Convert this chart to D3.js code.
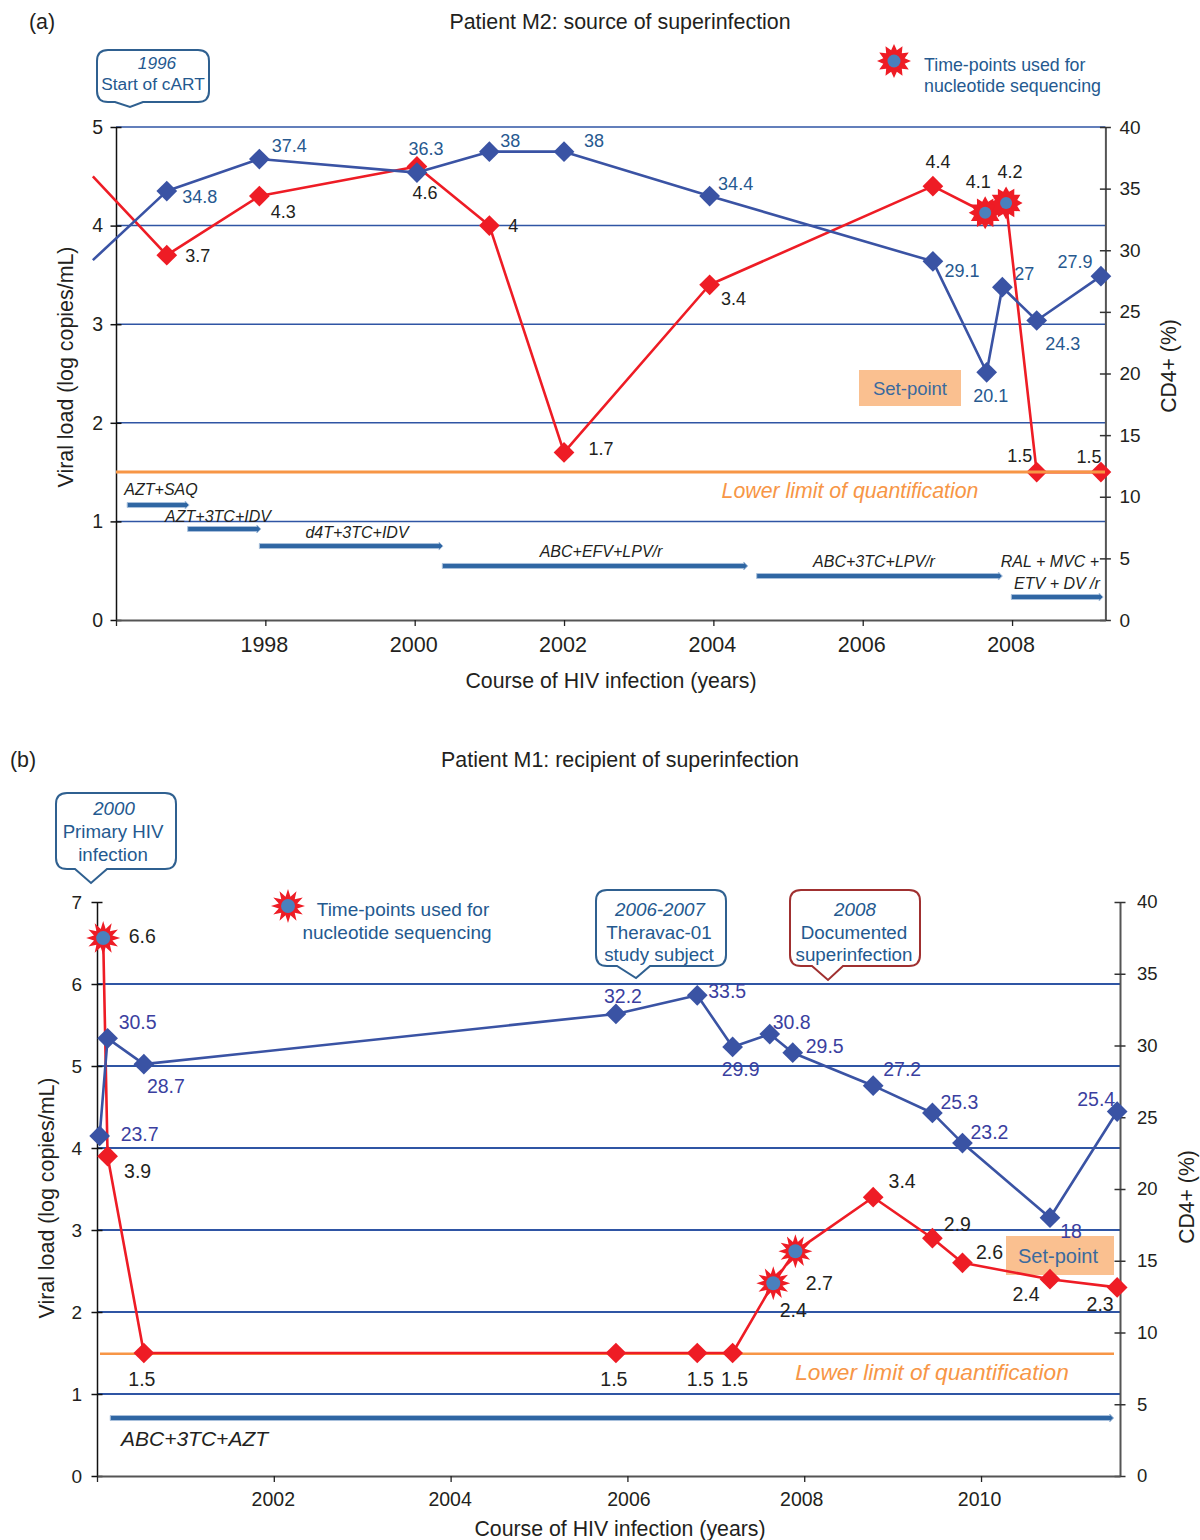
<!DOCTYPE html>
<html>
<head>
<meta charset="utf-8">
<script src="https://cdn.jsdelivr.net/npm/d3@7"></script>
<style>
html, body { margin: 0; padding: 0; background: #fff; }
text { font-family: "Liberation Sans", Arial, sans-serif; }
</style>
</head>
<body>
<div id="chart"></div>
<script>
// Panel (a): patient M2
var blueYearsA = [1995.69, 1996.68, 1997.92, 2000.03, 2001.0, 2002.0, 2003.95, 2006.94, 2007.66, 2007.87, 2008.33, 2009.19];
var blueValuesA = [29.2, 34.8, 37.4, 36.3, 38, 38, 34.4, 29.1, 20.1, 27, 24.3, 27.9];
var blueLabelsA = ["", "34.8", "37.4", "36.3", "38", "38", "34.4", "29.1", "20.1", "27", "24.3", "27.9"];
var redYearsA = [1995.69, 1996.68, 1997.92, 2000.03, 2001.0, 2002.0, 2003.95, 2006.94, 2007.64, 2007.92, 2008.33, 2009.19];
var redValuesA = [4.5, 3.7, 4.3, 4.6, 4, 1.7, 3.4, 4.4, 4.13, 4.23, 1.5, 1.5];
var redLabelsA = ["", "3.7", "4.3", "4.6", "4", "1.7", "3.4", "4.4", "4.1", "4.2", "1.5", "1.5"];
var seqYearsA = [2007.64, 2007.92];
var seqValuesA = [4.13, 4.23];
var drugNamesA = ["AZT+SAQ", "AZT+3TC+IDV", "d4T+3TC+IDV", "ABC+EFV+LPV/r", "ABC+3TC+LPV/r", "RAL + MVC +", "ETV + DV /r"];
var drugStartA = [1996.15, 1996.96, 1997.92, 2000.37, 2004.58, 2007.99];
var drugEndA = [1996.98, 1997.94, 2000.38, 2004.46, 2007.87, 2009.22];
var drugLevelA = [1.166, 0.923, 0.75, 0.548, 0.446, 0.233];
var yearTicksA = [1996, 1998, 2000, 2002, 2004, 2006, 2008];
var vlTicksA = [0, 1, 2, 3, 4, 5];
var cd4TicksA = [0, 5, 10, 15, 20, 25, 30, 35, 40];

// Panel (b): patient M1
var blueYearsB = [2000.03, 2000.12, 2000.53, 2005.87, 2006.79, 2007.19, 2007.61, 2007.87, 2008.78, 2009.45, 2009.79, 2010.78, 2011.54];
var blueValuesB = [23.7, 30.5, 28.7, 32.2, 33.5, 29.9, 30.8, 29.5, 27.2, 25.3, 23.2, 18, 25.4];
var blueLabelsB = ["23.7", "30.5", "28.7", "32.2", "33.5", "29.9", "30.8", "29.5", "27.2", "25.3", "23.2", "18", "25.4"];
var redYearsB = [2000.07, 2000.12, 2000.53, 2005.87, 2006.79, 2007.19, 2007.65, 2007.90, 2008.78, 2009.45, 2009.79, 2010.78, 2011.54];
var redValuesB = [6.56, 3.9, 1.5, 1.5, 1.5, 1.5, 2.35, 2.74, 3.4, 2.9, 2.6, 2.4, 2.3];
var redLabelsB = ["6.6", "3.9", "1.5", "1.5", "1.5", "1.5", "2.4", "2.7", "3.4", "2.9", "2.6", "2.4", "2.3"];
var seqYearsB = [2000.07, 2007.65, 2007.90];
var seqValuesB = [6.56, 2.35, 2.74];
var drugNamesB = ["ABC+3TC+AZT"];
var drugStartB = [2000.15];
var drugEndB = [2011.50];
var drugLevelB = [0.707];
var yearTicksB = [2000, 2002, 2004, 2006, 2008, 2010];
var vlTicksB = [0, 1, 2, 3, 4, 5, 6, 7];
var cd4TicksB = [0, 5, 10, 15, 20, 25, 30, 35, 40];

var BLUE = "#3a53a4", RED = "#ee1c25", GRID = "#2f55a4", ORANGE = "#f79646",
    NOTE = "#24598f", INK = "#231f20", BOX = "#fac090";

var svg = d3.select("#chart").append("svg")
    .attr("width", 1200).attr("height", 1540)
    .style("display", "block");

function txt(x, y, s, size, color, anchor, italic) {
    return svg.append("text")
        .attr("x", x).attr("y", y)
        .attr("font-size", size)
        .attr("fill", color || INK)
        .attr("text-anchor", anchor || "middle")
        .attr("dominant-baseline", "central")
        .attr("font-style", italic ? "italic" : "normal")
        .text(s);
}

function star(x, y, r, c, inner) {
    var pts = d3.range(24).map(function(i) {
        return [i * Math.PI / 12, i % 2 ? r * inner : r];
    });
    svg.append("path")
        .attr("transform", "translate(" + x + "," + y + ")")
        .attr("d", d3.lineRadial().curve(d3.curveLinearClosed)(pts))
        .attr("fill", RED);
    svg.append("circle").attr("cx", x).attr("cy", y).attr("r", c).attr("fill", "#4a80bd");
}

function callout(b, color, lines, size) {
    var r = 11, p = "M" + (b.x0 + r) + "," + b.y0 +
        "H" + (b.x1 - r) + "Q" + b.x1 + "," + b.y0 + " " + b.x1 + "," + (b.y0 + r) +
        "V" + (b.y1 - r) + "Q" + b.x1 + "," + b.y1 + " " + (b.x1 - r) + "," + b.y1 +
        "H" + b.p1 + "L" + b.tx + "," + b.ty + "L" + b.p0 + "," + b.y1 +
        "H" + (b.x0 + r) + "Q" + b.x0 + "," + b.y1 + " " + b.x0 + "," + (b.y1 - r) +
        "V" + (b.y0 + r) + "Q" + b.x0 + "," + b.y0 + " " + (b.x0 + r) + "," + b.y0 + "Z";
    svg.append("path").attr("d", p).attr("fill", "#fff").attr("stroke", color).attr("stroke-width", 2);
    lines.forEach(function(l, i) {
        txt(l[0], l[1], l[2], size, NOTE, "middle", i === 0);
    });
}

function panel(c) {
    var x = d3.scaleLinear().domain(c.yearDomain).range(c.xRange);
    var yL = d3.scaleLinear().domain(c.vlDomain).range(c.yRange);
    var yR = d3.scaleLinear().domain([0, 40]).range(c.yRange);

    // gridlines
    svg.append("g").selectAll("line").data(c.vlTicks.filter(function(d) { return d > 0 && d < c.gridMax + 0.5; }))
        .enter().append("line")
        .attr("x1", c.xRange[0]).attr("x2", c.xRange[1])
        .attr("y1", function(d) { return yL(d); }).attr("y2", function(d) { return yL(d); })
        .attr("stroke", GRID).attr("stroke-width", c.gridWidth);

    // set-point box sits under the series lines
    svg.append("rect").attr("x", c.box[0]).attr("y", c.box[1])
        .attr("width", c.box[2] - c.box[0]).attr("height", c.box[3] - c.box[1]).attr("fill", BOX);
    txt((c.box[0] + c.box[2]) / 2 + c.boxShift, (c.box[1] + c.box[3]) / 2, "Set-point", c.boxSize, "#3a6a9e");

    // lower limit of quantification
    function limitLine() {
        svg.append("line")
            .attr("x1", c.limitX[0]).attr("x2", c.limitX[1])
            .attr("y1", yL(1.5) + c.limitShift).attr("y2", yL(1.5) + c.limitShift)
            .attr("stroke", ORANGE).attr("stroke-width", c.limitWidth);
    }
    if (!c.limitOnTop) limitLine();
    txt(c.limitText[0], c.limitText[1], "Lower limit of quantification", c.limitText[2], ORANGE, "middle", true);

    // axes
    var gl = svg.append("g").attr("transform", "translate(" + c.xRange[0] + ",0)")
        .call(d3.axisLeft(yL).tickValues(c.vlTicks).tickSize(0).tickPadding(c.padL).tickFormat(d3.format("d")));
    var gr = svg.append("g").attr("transform", "translate(" + c.xRange[1] + ",0)")
        .call(d3.axisRight(yR).tickValues(c.cd4Ticks).tickSize(0).tickPadding(c.padR));
    var gb = svg.append("g").attr("transform", "translate(0," + c.yRange[0] + ")")
        .call(d3.axisBottom(x).tickValues(c.yearTicks).tickSizeInner(6).tickSizeOuter(0).tickPadding(c.padB)
            .tickFormat(function(d, i) { return i === 0 ? "" : String(d); }));
    [gl, gr].forEach(function(g) {
        g.selectAll(".tick line").attr("x1", -5.5).attr("x2", 5.5).attr("y1", 0).attr("y2", 0)
            .attr("stroke-width", 1.5);
    });
    gl.select(".domain").attr("stroke", "#111").attr("stroke-width", 1.5);
    gl.selectAll(".tick line").attr("stroke", "#111");
    gr.select(".domain").attr("stroke", "#555").attr("stroke-width", 2);
    gr.selectAll(".tick line").attr("stroke", "#333");
    gb.select(".domain").attr("stroke", "#555").attr("stroke-width", 2);
    gb.selectAll(".tick line").attr("stroke", "#222").attr("stroke-width", 1.3);
    gl.selectAll("text").attr("font-size", c.tickL).attr("fill", INK).style("font-family", '"Liberation Sans"');
    gr.selectAll("text").attr("font-size", c.tickR).attr("fill", INK).style("font-family", '"Liberation Sans"');
    gb.selectAll("text").attr("font-size", c.tickB).attr("fill", INK)
        .attr("dx", function(d, i) { return c.tickNudge[i]; }).style("font-family", '"Liberation Sans"');

    // regimen arrows
    c.drugStart.forEach(function(s, i) {
        var x0 = x(s), x1 = x(c.drugEnd[i]), ym = yL(c.drugLevel[i]);
        svg.append("path")
            .attr("d", d3.line()([[x0, ym - c.arrowH], [x1 - 4, ym - c.arrowH], [x1 - 4, ym - c.arrowH - 1.5], [x1, ym],
                [x1 - 4, ym + c.arrowH + 1.5], [x1 - 4, ym + c.arrowH], [x0, ym + c.arrowH]]) + "Z")
            .attr("fill", "#2f66a3").attr("stroke", "#a9c0dc").attr("stroke-width", 1);
    });

    var line = d3.line().x(function(d) { return x(d[0]); }).y(function(d) { return d[1]; });
    var diamond = d3.symbol().type(d3.symbolSquare).size(c.markerArea);

    function series(years, vals, scale, color, labels, offs, labelColor, skip) {
        var pts = years.map(function(t, i) { return [t, scale(vals[i])]; });
        svg.append("path").attr("d", line(pts)).attr("fill", "none")
            .attr("stroke", color).attr("stroke-width", 2.6).attr("stroke-linejoin", "round");
        svg.append("g").selectAll("path").data(pts.slice(skip)).enter().append("path")
            .attr("d", diamond).attr("fill", color)
            .attr("transform", function(d) { return "translate(" + x(d[0]) + "," + d[1] + ") rotate(45)"; });
        labels.forEach(function(l, i) {
            if (!l) return;
            txt(x(years[i]) + offs[i][0], scale(vals[i]) + offs[i][1], l, c.labelSize, labelColor);
        });
    }
    series(c.redYears, c.redValues, yL, RED, c.redLabels, c.redOff, INK, c.skip);
    c.seqYears.forEach(function(t, i) { star(x(t), yL(c.seqValues[i]), c.starR, c.starC, c.starInner); });
    series(c.blueYears, c.blueValues, yR, BLUE, c.blueLabels, c.blueOff, c.blueText, c.skip);
    if (c.limitOnTop) limitLine();

    // titles
    txt(c.yearTitle[0], c.yearTitle[1], "Course of HIV infection (years)", 21.3);
    txt(0, 0, "Viral load (log copies/mL)", 21.4)
        .attr("transform", "translate(" + c.leftTitle[0] + "," + c.leftTitle[1] + ") rotate(-90)");
    txt(0, 0, "CD4+ (%)", 21.2)
        .attr("transform", "translate(" + c.rightTitle[0] + "," + c.rightTitle[1] + ") rotate(-90)");
}

panel({
    yearDomain: [1996, 2009.25], xRange: [116, 1105.4], vlDomain: [0, 5], yRange: [620, 127],
    vlTicks: vlTicksA, cd4Ticks: cd4TicksA, yearTicks: yearTicksA, tickNudge: [0, -1.5, -1.5, -1.5, -1.5, -1.5, -1.5],
    gridMax: 5, gridWidth: 1.5, limitX: [116, 1105], limitWidth: 3, limitShift: 0, limitOnTop: true,
    limitText: [850, 491, 21.3], box: [859, 370, 961, 406], boxShift: 0, boxSize: 18.5,
    padL: 13, padR: 14, padB: 11, tickL: 19.5, tickR: 19, tickB: 21.5,
    drugStart: drugStartA, drugEnd: drugEndA, drugLevel: drugLevelA, arrowH: 2.5,
    blueYears: blueYearsA, blueValues: blueValuesA, blueLabels: blueLabelsA,
    redYears: redYearsA, redValues: redValuesA, redLabels: redLabelsA,
    seqYears: seqYearsA, seqValues: seqValuesA, skip: 1, starR: 16.5, starC: 6, starInner: 0.7,
    markerArea: 215, labelSize: 18, blueText: "#27598f",
    blueOff: [[0, 0], [33, 6], [30, -13], [9, -24], [21, -11], [30, -11], [26, -12], [29, 10], [4, 24], [22, -13], [26, 23], [-26, -14]],
    redOff: [[0, 0], [31, 1], [24, 16], [8, 27], [24, 0], [37, -3], [24, 14], [5, -24], [-7, -31], [4, -31], [-17, -16], [-12, -15]],
    yearTitle: [611, 681], leftTitle: [66, 367], rightTitle: [1168, 366]
});

panel({
    yearDomain: [2000, 2011.572], xRange: [97, 1120], vlDomain: [0, 7], yRange: [1476, 902],
    vlTicks: vlTicksB, cd4Ticks: cd4TicksB, yearTicks: yearTicksB, tickNudge: [0, -1, -1, 1, -3, -2],
    gridMax: 6, gridWidth: 2, limitX: [100, 1114], limitWidth: 2.6, limitShift: 0.7, limitOnTop: false,
    limitText: [932, 1372, 22.7], box: [1006, 1236, 1114, 1275], boxShift: -2, boxSize: 20,
    padL: 15, padR: 17, padB: 10, tickL: 19, tickR: 18.5, tickB: 19.5,
    drugStart: drugStartB, drugEnd: drugEndB, drugLevel: drugLevelB, arrowH: 2.5,
    blueYears: blueYearsB, blueValues: blueValuesB, blueLabels: blueLabelsB,
    redYears: redYearsB, redValues: redValuesB, redLabels: redLabelsB,
    seqYears: seqYearsB, seqValues: seqValuesB, skip: 0, starR: 17, starC: 7, starInner: 0.56,
    markerArea: 215, labelSize: 19.5, blueText: "#3b3f9f",
    blueOff: [[40, -2], [30, -16], [22, 22], [7, -18], [30, -4], [8, 22], [22, -12], [32, -7], [29, -17], [27, -11], [27, -11], [21, 13], [-21, -13]],
    redOff: [[39, -2], [30, 15], [-2, 26], [-2, 26], [3, 26], [2, 26], [20, 27], [24, 32], [29, -16], [25, -14], [27, -11], [-24, 15], [-17, 17]],
    yearTitle: [620, 1529], leftTitle: [47, 1198], rightTitle: [1186, 1197]
});

// panel titles and letters
txt(29, 22, "(a)", 21.4, INK, "start");
txt(620, 22, "Patient M2: source of superinfection", 21.4);
txt(10, 760, "(b)", 21.4, INK, "start");
txt(620, 760, "Patient M1: recipient of superinfection", 21.4);

// regimen names
[[161, 489], [218, 516], [357, 532], [601, 551], [874, 561], [1050, 561], [1057, 583]].forEach(function(d, i) {
    txt(d[0], d[1], drugNamesA[i], 16, INK, "middle", true);
});
txt(121, 1438, drugNamesB[0], 21, INK, "start", true);

// legends
star(894, 61, 17, 6.5, 0.65);
txt(924, 65, "Time-points used for", 17.8, NOTE, "start");
txt(924, 86, "nucleotide sequencing", 17.8, NOTE, "start");
star(288, 906, 17, 7, 0.56);
txt(403, 909, "Time-points used for", 19, NOTE);
txt(397, 932, "nucleotide sequencing", 19, NOTE);

// callouts
callout({x0: 97, x1: 209, y0: 50, y1: 102, p0: 115, p1: 143, tx: 130, ty: 107}, "#2f6090",
    [[157, 63, "1996"], [153, 84, "Start of cART"]], 17.3);
callout({x0: 56, x1: 176, y0: 793, y1: 869, p0: 75, p1: 107, tx: 91, ty: 883}, "#2f6090",
    [[114, 808, "2000"], [113, 831, "Primary HIV"], [113, 854, "infection"]], 18.7);
callout({x0: 596, x1: 726, y0: 890, y1: 966, p0: 617, p1: 650, tx: 636, ty: 978}, "#2f6090",
    [[660, 909, "2006-2007"], [659, 932, "Theravac-01"], [659, 954, "study subject"]], 18.8);
callout({x0: 790, x1: 920, y0: 890, y1: 966, p0: 812, p1: 843, tx: 828, ty: 980}, "#a03030",
    [[855, 909, "2008"], [854, 932, "Documented"], [854, 954, "superinfection"]], 18.8);
</script>
</body>
</html>
